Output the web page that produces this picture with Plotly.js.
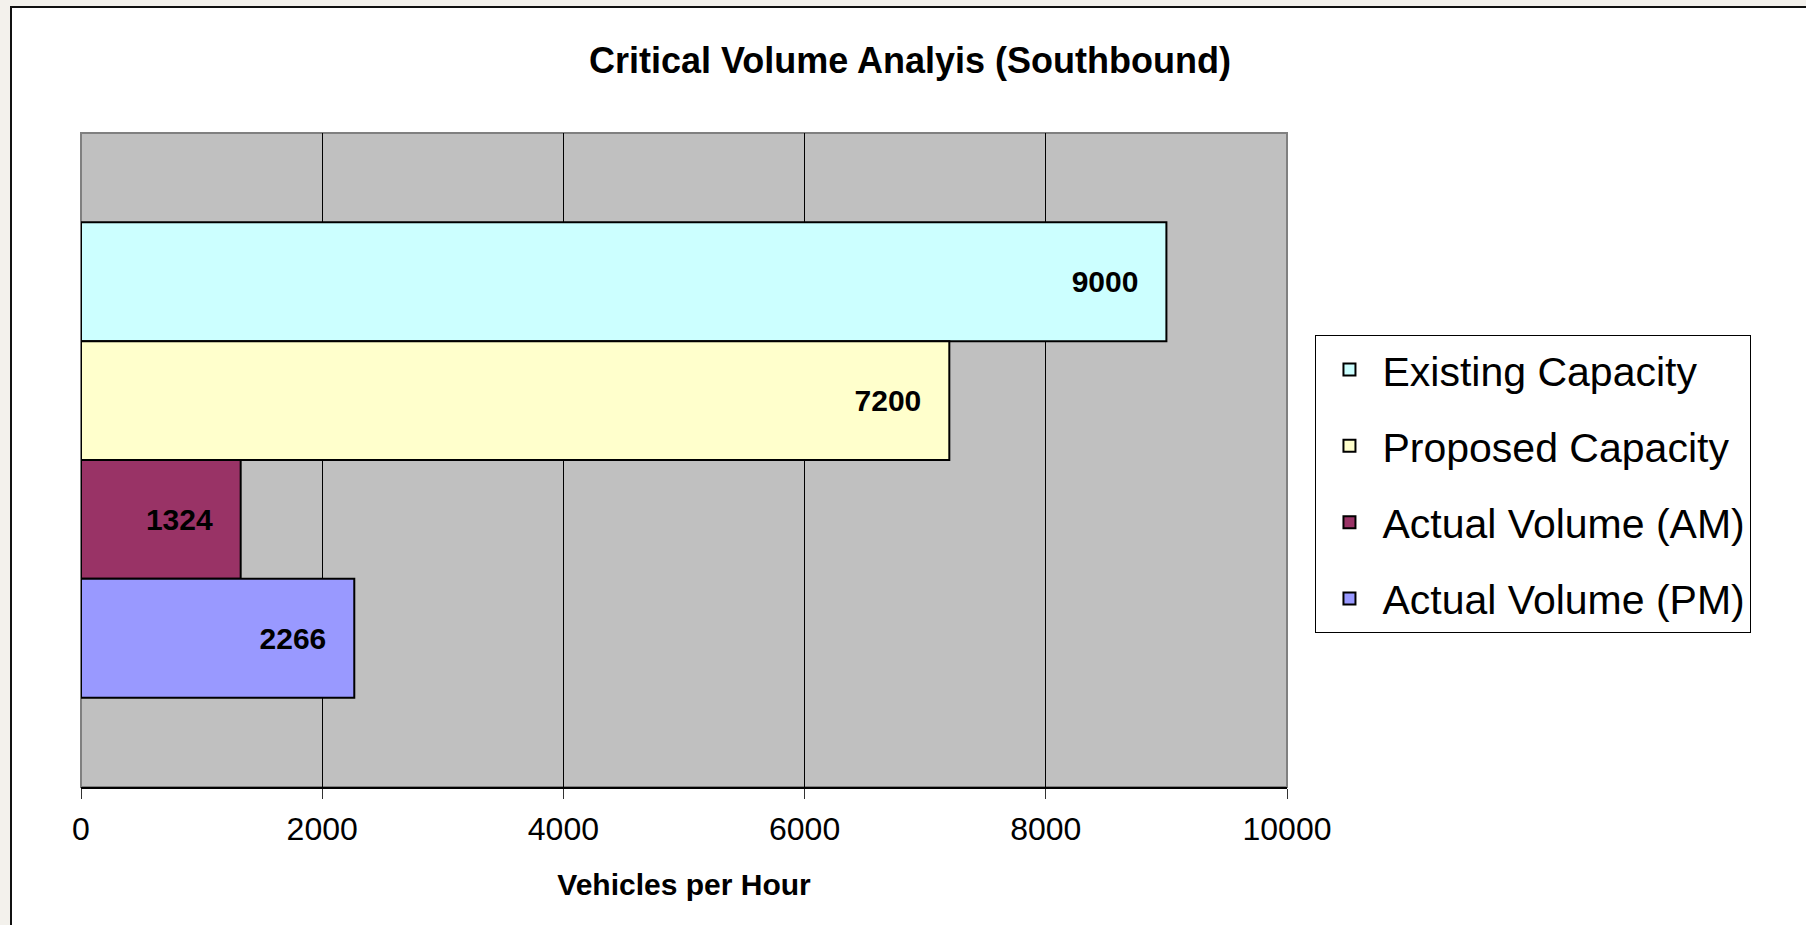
<!DOCTYPE html>
<html>
<head>
<meta charset="utf-8">
<script src="https://cdn.plot.ly/plotly-3.0.1.min.js"></script>
<style>
  html, body { margin: 0; padding: 0; background: #f3f1ec; overflow: hidden; width: 1806px; height: 925px; }
  #chart { position: absolute; left: 10px; top: 6px; width: 1796px; height: 919px;
           border-left: 2px solid #111; border-top: 2px solid #111; background: #fff; }
</style>
</head>
<body>
<div id="chart"></div>
<script>
const categories = ["Southbound"];
const seriesNames = ["Existing Capacity", "Proposed Capacity", "Actual Volume (AM)", "Actual Volume (PM)"];
const existingCapacity = [9000];
const proposedCapacity = [7200];
const actualVolumeAM = [1324];
const actualVolumePM = [2266];
const seriesColors = ["#CCFFFF", "#FFFFCC", "#993366", "#9999FF"];
const xTickValues = [0, 2000, 4000, 6000, 8000, 10000];

const FONT = '"Liberation Sans", Arial, Helvetica, sans-serif';
const seriesValues = [existingCapacity, proposedCapacity, actualVolumeAM, actualVolumePM];

const traces = seriesValues.map((vals, i) => ({
  type: 'bar',
  orientation: 'h',
  name: seriesNames[i],
  legendgroup: 'g' + i,
  x: vals,
  y: categories,
  text: vals.map(v => String(v) + '\u00a0\u00a0\u00a0'),
  textposition: 'inside',
  insidetextanchor: 'end',
  constraintext: 'none',
  textfont: { family: FONT, size: 30, color: '#000', weight: 'bold' },
  insidetextfont: { family: FONT, size: 30, color: '#000', weight: 'bold' },
  marker: { color: seriesColors[i], line: { color: '#000', width: 2 } },
  hoverinfo: 'x+name'
}));

const layout = {
  width: 1796,
  height: 919,
  margin: { l: 68.6, r: 521.4, t: 124.5, b: 140.3, pad: 0 },
  paper_bgcolor: '#ffffff',
  plot_bgcolor: '#C0C0C0',
  barmode: 'group',
  bargap: 0.273,
  bargroupgap: 0,
  showlegend: true,
  font: { family: FONT, color: '#000' },
  title: {
    text: '<b>Critical Volume Analyis (Southbound)</b>',
    font: { family: FONT, size: 36, color: '#000' },
    x: 0.5, xref: 'container', xanchor: 'center',
    y: 0.9434, yref: 'container', yanchor: 'middle'
  },
  xaxis: {
    range: [0, 10000],
    tickvals: xTickValues,
    ticktext: xTickValues.map(String),
    showgrid: true, gridcolor: '#000', gridwidth: 1,
    zeroline: false,
    showline: true, linecolor: '#000', linewidth: 2,
    ticks: 'outside', ticklen: 10, tickcolor: '#333', tickwidth: 1,
    ticklabelstandoff: 3,
    tickfont: { family: FONT, size: 32, color: '#000' },
    title: { text: '<b>Vehicles per Hour</b>', font: { family: FONT, size: 30, color: '#000' }, standoff: 28 },
    fixedrange: true
  },
  yaxis: {
    type: 'category',
    autorange: 'reversed',
    showticklabels: false,
    showgrid: false,
    zeroline: false,
    showline: false,
    ticks: '',
    fixedrange: true
  },
  shapes: [{
    type: 'rect', xref: 'paper', yref: 'paper', x0: 0, x1: 1, y0: 0, y1: 1,
    line: { color: '#808080', width: 2 }, layer: 'below'
  }],
  legend: {
    x: 1.0236, xanchor: 'left',
    y: 0.6905, yanchor: 'top',
    bgcolor: '#fff',
    bordercolor: '#000', borderwidth: 1,
    font: { family: FONT, size: 41, color: '#000' },
    traceorder: 'grouped',
    tracegroupgap: 20,
    itemwidth: 56,
    itemclick: false, itemdoubleclick: false
  }
};

Plotly.newPlot('chart', traces, layout, { displayModeBar: false, staticPlot: true });
</script>
</body>
</html>
